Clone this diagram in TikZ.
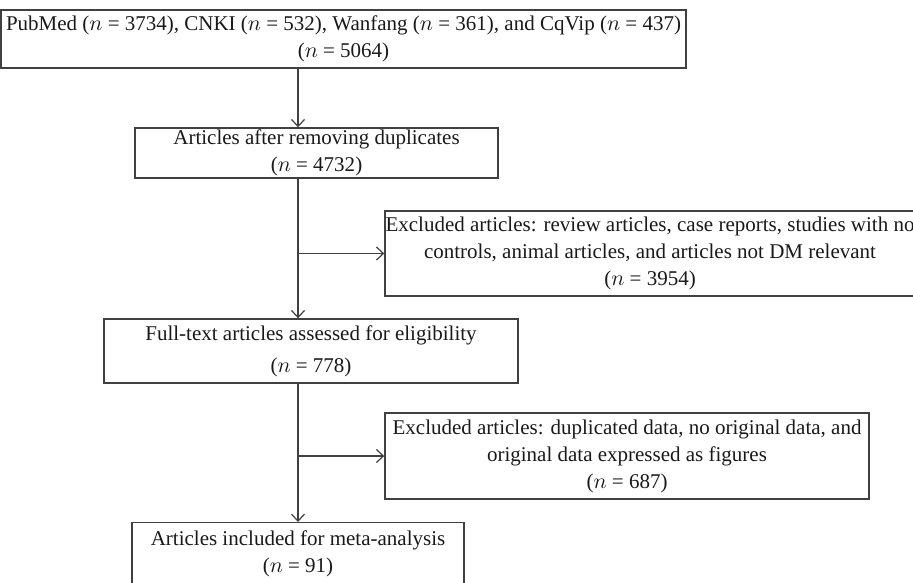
\documentclass[tikz,border=0pt]{standalone}
\usepackage{fontspec}
\setmainfont{Liberation Serif}
\usepackage{tikz}
\usetikzlibrary{calc,shapes,arrows,arrows.meta}

\tikzset{
  flowbox/.style={draw=black!75, line width=0.7pt, inner sep=0pt, align=center,
    text=black!90, font=\fontsize{10.5}{13.5}\selectfont},
  flowline/.style={draw=black!75, line width=0.7pt,
    -{Straight Barb[length=3.5pt,width=6.5pt,line width=0.6pt]}},
}

\begin{document}
\begin{tikzpicture}[x=0.5pt,y=-0.5pt]
        \useasboundingbox (0,0) rectangle (913,582);
        % main column
        \node[flowbox, minimum width=342.5pt, minimum height=29pt] (search) at (343.5,39)
            {PubMed ($n$ = 3734), CNKI ($n$ = 532), Wanfang ($n$ = 361), and CqVip ($n$ = 437)\\
             ($n$ = 5064)};
        \node[flowbox, minimum width=181.5pt, minimum height=25pt] (dedup) at (316.5,153)
            {Articles after removing duplicates\\($n$ = 4732)};
        \node[flowbox, minimum width=207pt, minimum height=32pt] (elig) at (311,351)
            {Full-text articles assessed for eligibility\\[2.5pt]($n$ = 778)};
        \node[flowbox, minimum width=166pt, minimum height=31pt, anchor=north] (incl) at (298,522)
            {Articles included for meta-analysis\\($n$ = 91)};
        % excluded boxes
        \node[flowbox, minimum width=265pt, minimum height=42.5pt] (excl1) at (650,253.5)
            {Excluded articles: review articles, case reports, studies with no\\
             controls, animal articles, and articles not DM relevant\\($n$ = 3954)};
        \node[flowbox, minimum width=242pt, minimum height=43pt] (excl2) at (627,456)
            {Excluded articles: duplicated data, no original data, and\\
             original data expressed as figures\\($n$ = 687)};
        % connectors
        \coordinate (b1) at (298,253.5);
        \coordinate (b2) at (298,456);
        \draw[flowline] (search.south -| b1) -- (dedup.north -| b1);
        \draw[flowline] (dedup.south -| b1) -- (elig.north -| b1);
        \draw[flowline] (b1) -- (excl1.west |- b1);
        \draw[flowline] (elig.south -| b2) -- (incl.north -| b2);
        \draw[flowline] (b2) -- (excl2.west |- b2);
    \end{tikzpicture}
\end{document}
